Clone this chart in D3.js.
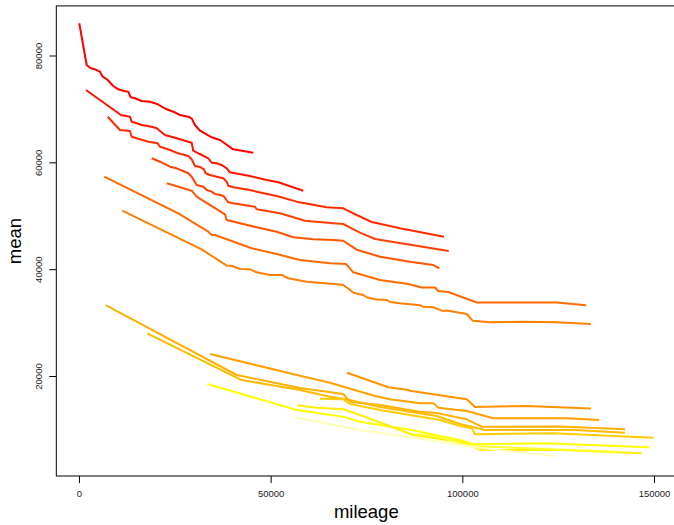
<!DOCTYPE html>
<html>
<head>
<meta charset="utf-8">
<script src="https://cdn.jsdelivr.net/npm/d3@7"></script>
<style>
  body { margin: 0; background: #fff; }
  svg { display: block; font-family: "Liberation Sans", Arial, Helvetica, sans-serif; }
</style>
</head>
<body>
<svg width="674" height="525"></svg>
<script>
// mean price vs mileage, one line per group: [mileage, mean]
const s1 = [[80,86030],[2010,78220],[3050,77600],[4170,77420],[5480,76970],[6180,76030],[7230,75600],[8950,74290],[10250,73670],[11740,73350],[12860,73220],[13490,72180],[14610,71990],[16360,71480],[18520,71350],[20430,70920],[21580,70420],[22880,69930],[24600,69480],[26350,68860],[28510,68540],[29400,68240],[30260,66990],[31570,65920],[34620,64690],[36780,64180],[40250,62440],[45470,61800]];
const s2 = [[1830,73540],[10960,68860],[13300,68540],[13750,67610],[15050,67310],[16360,66990],[18970,66670],[20270,66370],[21130,65870],[22430,65120],[25040,64610],[28510,63860],[29400,63680],[29820,62180],[31120,61690],[31570,61560],[33730,60760],[34620,59930],[35920,59820],[37230,59500],[38530,58880],[39390,58140],[40700,57950],[44610,57440],[48970,56700],[51990,56260],[58510,54690]];
const s3 = [[7490,68540],[10700,66050],[13300,65870],[13750,64800],[15050,64500],[18100,63860],[20530,63560],[21130,62930],[22430,62630],[23740,62310],[25900,61690],[28510,61190],[29400,60570],[30260,59320],[31570,59130],[32610,58700],[33050,57950],[34170,57630],[35920,57310],[37640,57010],[38530,56380],[38950,55630],[40250,55330],[44610,54820],[46360,54510],[51570,53700],[56790,52640],[64620,51580],[68950,51400],[72440,50140],[76360,48830],[83740,47650],[95220,46080]];
const s4 = [[18970,60760],[21130,60120],[23740,59180],[25490,58880],[28510,57950],[29400,57310],[30700,55760],[32430,55440],[33310,54820],[34620,54510],[35480,54070],[37640,53760],[38950,52520],[40250,52330],[45910,51700],[46360,51210],[52430,50460],[56790,49530],[58960,49070],[66340,48590],[68950,48460],[71140,47650],[73300,46830],[77220,45650],[96440,43400]];
const s5 = [[22880,56080],[29400,54690],[30700,53570],[38090,50270],[38530,49210],[46360,47840],[51570,47020],[55900,45970],[61120,45600],[66340,45460],[68950,45330],[72440,43650],[78520,42340],[86350,41400],[92430,40780],[93990,40160]];
const s6 = [[6600,57310],[25900,50460],[33730,47020],[34620,46400],[35480,46400],[45050,43910],[51570,42840],[57650,41720],[65480,41100],[69650,40970],[71560,39410],[78520,37970],[85900,37230],[89400,36570],[92870,36570],[93730,35910],[96340,35730],[103750,33760],[124620,33760],[132260,33240]];
const s7 = [[11300,50950],[32010,43720],[38530,40650],[39840,40650],[42000,40030],[44610,39970],[46360,39410],[49830,38910],[52880,38910],[54600,38290],[59400,37660],[67230,37170],[68950,37040],[70700,36100],[71560,35600],[74170,35170],[75050,34740],[77220,34360],[80270,34230],[81130,33860],[83740,33610],[88960,33240],[89820,32980],[92430,32870],[94620,32230],[96340,32230],[101140,31610],[102700,30360],[107220,30060],[115910,30170],[124620,30060],[133490,29740]];
const s8 = [[69910,20620],[80690,17890],[85900,17380],[86350,17250],[101140,15650],[103310,14200],[116790,14390],[133490,13920]];
const s9 = [[34170,24120],[57650,20060],[65480,18750],[77220,16260],[81130,15640],[88960,14890],[92430,14890],[93730,14070],[101140,13450],[108080,12090],[127230,12090],[135730,11770]];
const s10 = [[6970,33290],[41140,20190],[57650,17760],[68950,16630],[70700,15190],[78520,14570],[88960,13320],[93310,13080],[101140,11900],[105050,10510],[125480,10550],[142430,10020]];
const s11 = [[17820,27990],[42440,19250],[57650,17380],[65480,16130],[69390,15700],[78520,14200],[93310,12520],[99390,11020],[105910,9900],[129390,9900],[142430,9390]];
const s12 = [[62870,15750],[68950,15640],[70700,14760],[78520,13640],[94180,11770],[99390,10640],[102440,10210],[103310,9090],[123730,9280],[149820,8450]];
const s13 = [[33470,18510],[56790,13640],[68950,12380],[73300,11450],[86790,9890],[94180,8770],[99390,8020],[102860,7220],[121120,7400],[148770,6660]];
const s14 = [[56950,14520],[62010,14070],[68950,13770],[73300,12700],[87210,8960],[99390,7700],[105050,6150],[125480,6150],[146790,5530]];
const s15 = [[86870,9150],[94180,8580],[102000,6900],[140270,5830]];
const s16 = [[56350,12270],[73300,9890],[91570,8020],[104610,6520],[124620,5030]];

const series = [s1, s2, s3, s4, s5, s6, s7, s8, s9, s10, s11, s12, s13, s14, s15, s16];
const xTicks = [0, 50000, 100000, 150000];
const yTicks = [20000, 40000, 60000, 80000];

// line colours, red -> yellow
const colors = ['#FF0000', '#FF1400', '#FF2A00', '#FF4000', '#FF5500', '#FF6A00', '#FF8000',
    '#FF9200', '#FFA000', '#FFB000', '#FFBA00', '#FFCC00', '#FFFF00', '#FFEE00', '#FFFF30', '#FFFFB8'];

const svg = d3.select('svg');

const x = d3.scaleLinear().domain([-5910, 155810]).range([56.3, 676.3]);
const y = d3.scaleLinear().domain([1283, 89286]).range([476, 5.9]);

const line = d3.line()
    .x(d => x(d[0]))
    .y(d => y(d[1]));

svg.append('g')
    .selectAll('path')
    .data(series)
    .enter()
    .append('path')
    .attr('d', line)
    .attr('fill', 'none')
    .attr('stroke', (d, i) => colors[i])
    .attr('stroke-width', 2)
    .attr('stroke-linejoin', 'round');

// plot box
svg.append('rect')
    .attr('x', x.range()[0])
    .attr('y', y.range()[1])
    .attr('width', x.range()[1] - x.range()[0])
    .attr('height', y.range()[0] - y.range()[1])
    .attr('fill', 'none')
    .attr('stroke', '#000')
    .attr('stroke-width', 1);

// x axis
const gx = svg.append('g')
    .attr('transform', `translate(0,${y.range()[0]})`)
    .call(d3.axisBottom(x).tickValues(xTicks).tickSize(7).tickFormat(d3.format('d')));
gx.select('.domain').remove();
gx.selectAll('text')
    .attr('y', 20.7)
    .attr('dy', 0)
    .attr('font-size', '9.5px')
    .attr('fill', '#222');

// y axis, labels parallel to the axis
const gy = svg.append('g')
    .attr('transform', `translate(${x.range()[0]},0)`)
    .call(d3.axisLeft(y).tickValues(yTicks).tickSize(7).tickFormat(d3.format('d')));
gy.select('.domain').remove();
gy.selectAll('text')
    .attr('x', 0)
    .attr('y', -14)
    .attr('dy', 0)
    .attr('transform', 'rotate(-90)')
    .attr('text-anchor', 'middle')
    .attr('font-size', '9.5px')
    .attr('fill', '#222');

// axis titles
svg.append('text')
    .attr('x', 366.3)
    .attr('y', 517.7)
    .attr('text-anchor', 'middle')
    .attr('font-size', '18.5px')
    .text('mileage');

svg.append('text')
    .attr('transform', 'translate(20.7,241) rotate(-90)')
    .attr('text-anchor', 'middle')
    .attr('font-size', '18.5px')
    .text('mean');
</script>
</body>
</html>
